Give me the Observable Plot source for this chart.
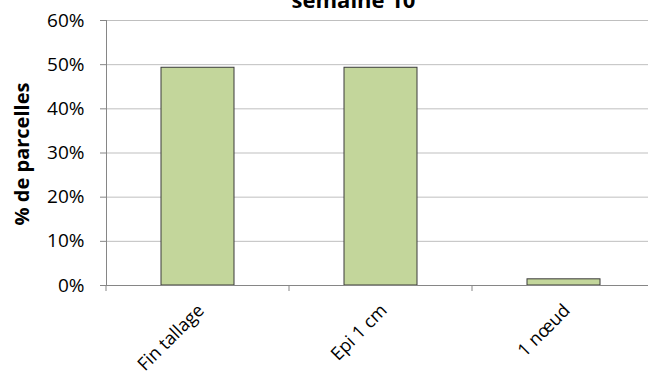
<!DOCTYPE html>
<html>
<head>
<meta charset="utf-8">
<script src="https://cdn.jsdelivr.net/npm/d3@7"></script>
<script src="https://cdn.jsdelivr.net/npm/@observablehq/plot@0.6"></script>
<style>
  html, body { margin: 0; padding: 0; background: #fff; }
  #chart { width: 648px; height: 376px; overflow: hidden; }
  svg { overflow: hidden; }
</style>
</head>
<body>
<div id="chart"></div>
<script>
const categories = ["Fin tallage", "Epi 1 cm", "1 nœud"];
const values = [49.3, 49.3, 1.4];
const yTicks = [0, 10, 20, 30, 40, 50, 60];
const title = "semaine 10";
const yLabel = "% de parcelles";

const data = categories.map((c, i) => ({ stade: c, pct: values[i] }));
const font = "Open Sans, Lato, sans-serif";

const chart = Plot.plot({
  width: 648,
  height: 376,
  marginLeft: 106,
  marginRight: -8,
  marginTop: 20,
  marginBottom: 91,
  style: { fontFamily: font, fontSize: "16px", color: "#000", background: "#fff" },
  x: { domain: categories, paddingInner: 0.6, paddingOuter: 0.3, label: null },
  y: { domain: [0, 60], label: null },
  marks: [
    Plot.gridY(yTicks, { stroke: "#bfbfbf", strokeOpacity: 1, strokeWidth: 1 }),
    Plot.barY(data, { x: "stade", y: "pct", fill: "#c3d69b", stroke: "#3a3a3a", strokeWidth: 1 }),
    Plot.frame({ anchor: "left", stroke: "#868686" }),
    Plot.ruleY([0], { stroke: "#868686" }),
    Plot.axisY(yTicks, { tickFormat: d => d + "%", tickSize: 6, tickPadding: 16, stroke: "#868686", fontSize: 19, label: null }),
    Plot.axisX({ tickSize: 0, tickRotate: -45, tickPadding: 22, dx: 3, fontSize: 18, label: null }),
    Plot.text([title], { frameAnchor: "top", dx: -28, dy: -13, lineAnchor: "bottom", fontWeight: "bold", fontSize: 22 }),
    Plot.text([yLabel], { frameAnchor: "left", dx: -84, dy: 1, textAnchor: "middle", rotate: -90, fontWeight: "bold", fontSize: 20 })
  ]
});

// category boundary tick marks, placed from the band scale
const xs = chart.scale("x");
const ys = chart.scale("y");
const y0 = ys.apply(0);
const gap = (xs.step - xs.bandwidth) / 2;
const bounds = categories.map(c => xs.apply(c) - gap);
bounds.push(xs.apply(categories[categories.length - 1]) + xs.bandwidth + gap);
const g = d3.select(chart).append("g").attr("stroke", "#868686");
for (const b of bounds) {
  g.append("line").attr("x1", b).attr("x2", b).attr("y1", y0).attr("y2", y0 + 6);
}

document.getElementById("chart").append(chart);
</script>
</body>
</html>
